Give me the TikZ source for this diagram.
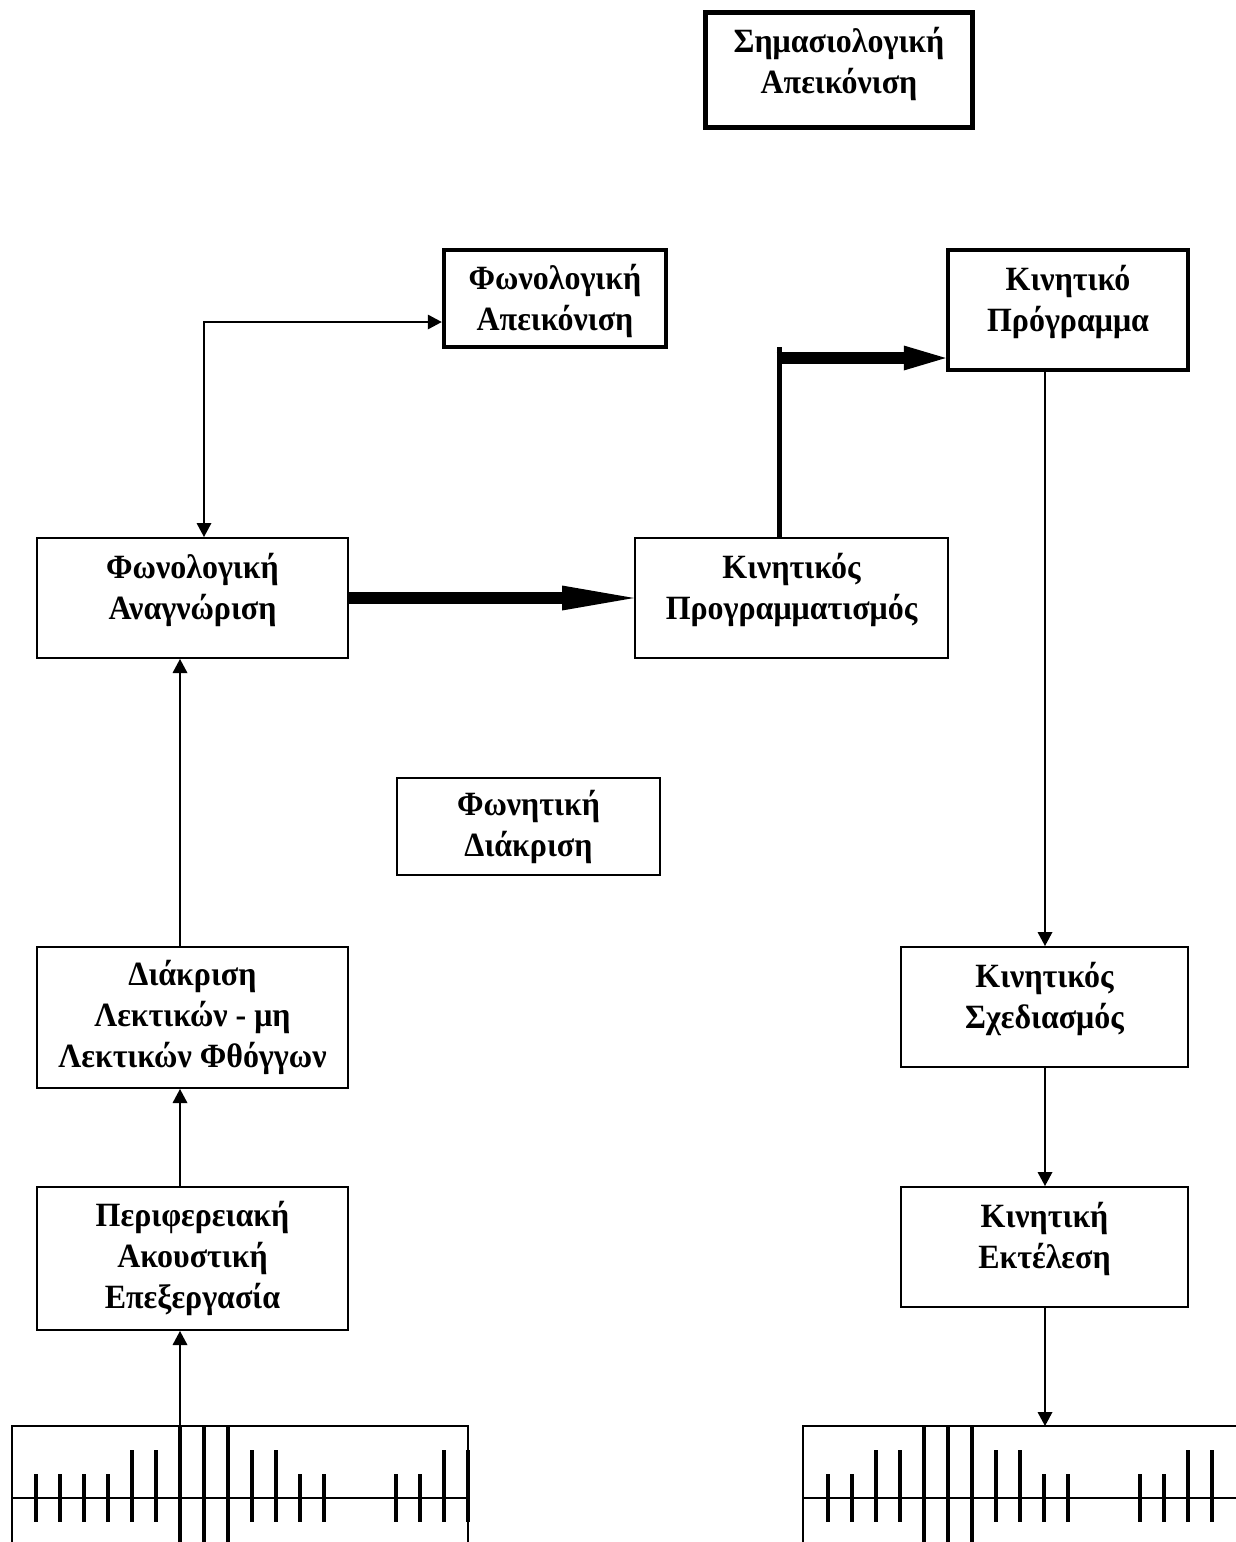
\documentclass[tikz,border=0pt]{standalone}
\usepackage{fontspec}
\setmainfont{Liberation Serif}[FakeStretch=0.94]
\usetikzlibrary{arrows.meta}

\begin{document}
\begin{tikzpicture}[x=0.5pt,y=-0.5pt,
  box/.style={draw,line width=1pt,inner sep=0pt,align=center,
    font=\fontsize{17}{20.5}\selectfont\bfseries},
  thickbox/.style={box,line width=2.25pt},
  raised/.style={text depth=12pt},
  arr/.style={line width=1pt,-{Triangle[length=7pt,width=7.5pt,line width=0pt]}},
  biarr/.style={line width=1pt,{Triangle[length=7pt,width=7.5pt,line width=0pt]}-{Triangle[length=7pt,width=7.5pt,line width=0pt]}},
  fat/.style={line width=6pt,-{Triangle[length=36pt,width=12.5pt,line width=0pt]}},
  fatshort/.style={line width=6pt,-{Triangle[length=21pt,width=12.5pt,line width=0pt]}},
  tick/.style={line width=2pt},
  longtick/.style={line width=2.25pt}]
\clip (0,0) rectangle (1236,1542);
\node[thickbox,minimum width=133.5pt,minimum height=57.5pt,text depth=10pt] (sem) at (839,70) {Σημασιολογική\\Απεικόνιση};
\node[thickbox,minimum width=111pt,minimum height=48.5pt,text height=36pt] (phrep) at (555,298.5) {Φωνολογική\\Απεικόνιση};
\node[thickbox,raised,minimum width=120pt,minimum height=60pt] (motprog) at (1068,310) {Κινητικό\\Πρόγραμμα};
\node[box,raised,minimum width=155.5pt,minimum height=60pt] (phrec) at (192.5,598) {Φωνολογική\\Αναγνώριση};
\node[box,raised,minimum width=156.5pt,minimum height=60pt] (motpl) at (791.5,598) {Κινητικός\\Προγραμματισμός};
\node[box,minimum width=131.5pt,minimum height=48.5pt] (phdisc) at (528.5,826.5) {Φωνητική\\Διάκριση};
\node[box,minimum width=155.5pt,minimum height=70.5pt] (vdisc) at (192.5,1017.5) {Διάκριση\\Λεκτικών - μη\\Λεκτικών Φθόγγων};
\node[box,minimum width=155.5pt,minimum height=71.5pt] (periph) at (192.5,1258.5) {Περιφερειακή\\Ακουστική\\Επεξεργασία};
\node[box,raised,minimum width=143.5pt,minimum height=60pt] (motdes) at (1044.5,1007) {Κινητικός\\Σχεδιασμός};
\node[box,raised,minimum width=143.5pt,minimum height=60pt] (motexe) at (1044.5,1247) {Κινητική\\Εκτέλεση};
% helper points
\coordinate (lx) at (180,0);
\coordinate (rx) at (1045,0);
\coordinate (bx) at (204,322);
\coordinate (tx) at (779,347);
\coordinate (ty) at (776.5,358);
\coordinate (wl) at (180,1426);
\coordinate (wr) at (1045,1426);
% left column
\draw[arr] (wl) -- (periph.south -| lx);
\draw[arr] (periph.north -| lx) -- (vdisc.south -| lx);
\draw[arr] (vdisc.north -| lx) -- (phrec.south -| lx);
\draw[biarr] (phrec.north -| bx) |- (phrep.west |- bx);
\draw[fat] (phrec.east) -- (motpl.west);
\draw[line width=2.5pt] (motpl.north -| tx) -- (tx);
\draw[fatshort] (ty) -- (motprog.west |- ty);
% right column
\draw[arr] (motprog.south -| rx) -- (motdes.north -| rx);
\draw[arr] (motdes.south -| rx) -- (motexe.north -| rx);
\draw[arr] (motexe.south -| rx) -- (wr);
% left wave
\draw[line width=1pt] (12,1560) -- (12,1426) -- (468,1426) -- (468,1560);
\draw[line width=1pt] (12,1498) -- (468,1498);
\draw[tick] (36,1474) -- (36,1522);
\draw[tick] (60,1474) -- (60,1522);
\draw[tick] (84,1474) -- (84,1522);
\draw[tick] (108,1474) -- (108,1522);
\draw[tick] (132,1450) -- (132,1522);
\draw[tick] (156,1450) -- (156,1522);
\draw[longtick] (180,1426) -- (180,1560);
\draw[longtick] (204,1426) -- (204,1560);
\draw[longtick] (228,1426) -- (228,1560);
\draw[tick] (252,1450) -- (252,1522);
\draw[tick] (276,1450) -- (276,1522);
\draw[tick] (300,1474) -- (300,1522);
\draw[tick] (324,1474) -- (324,1522);
\draw[tick] (396,1474) -- (396,1522);
\draw[tick] (420,1474) -- (420,1522);
\draw[tick] (444,1450) -- (444,1522);
\draw[tick] (468,1450) -- (468,1522);
% right wave
\draw[line width=1pt] (803,1560) -- (803,1426) -- (1250,1426);
\draw[line width=1pt] (803,1498) -- (1250,1498);
\draw[tick] (828,1474) -- (828,1522);
\draw[tick] (852,1474) -- (852,1522);
\draw[tick] (876,1450) -- (876,1522);
\draw[tick] (900,1450) -- (900,1522);
\draw[longtick] (924,1426) -- (924,1560);
\draw[longtick] (948,1426) -- (948,1560);
\draw[longtick] (972,1426) -- (972,1560);
\draw[tick] (996,1450) -- (996,1522);
\draw[tick] (1020,1450) -- (1020,1522);
\draw[tick] (1044,1474) -- (1044,1522);
\draw[tick] (1068,1474) -- (1068,1522);
\draw[tick] (1140,1474) -- (1140,1522);
\draw[tick] (1164,1474) -- (1164,1522);
\draw[tick] (1188,1450) -- (1188,1522);
\draw[tick] (1212,1450) -- (1212,1522);
\end{tikzpicture}
\end{document}
